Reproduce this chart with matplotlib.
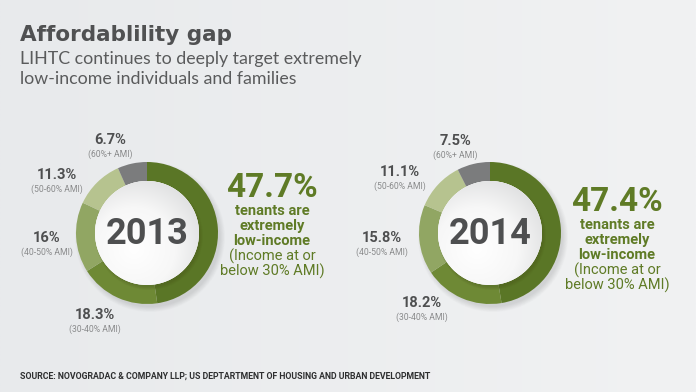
import numpy as np
import matplotlib
matplotlib.use("Agg")
import matplotlib.pyplot as plt
from matplotlib.patches import Circle

# data
years = ["2013", "2014"]
bands = ["(30% AMI)", "(30-40% AMI)", "(40-50% AMI)", "(50-60% AMI)", "(60%+ AMI)"]
share_2013 = [47.7, 18.3, 16.0, 11.3, 6.7]
share_2014 = [47.4, 18.2, 15.8, 11.1, 7.5]
pct_labels_2013 = ["47.7%", "18.3%", "16%", "11.3%", "6.7%"]
pct_labels_2014 = ["47.4%", "18.2%", "15.8%", "11.1%", "7.5%"]

colors = ["#5a7626", "#6e8935", "#91a663", "#b6c38f", "#7b7c7d"]
green = "#5f7b26"
dark = "#4e4f50"

W, H = 696, 392
fig = plt.figure(figsize=(W / 100, H / 100), dpi=100)
ax = fig.add_axes([0, 0, 1, 1])
ax.set_xlim(0, W)
ax.set_ylim(0, H)
ax.axis("off")

def Y(y):
    return H - y

# background
bg = np.linspace(0, 1, 256)
grad = np.outer(np.ones(64), bg)
ax.imshow(grad, extent=[0, W, 0, H], cmap=matplotlib.colors.LinearSegmentedColormap.from_list(
    "bg", ["#e8eaec", "#f1f2f3"]), aspect="auto", zorder=0)

# donuts
centers = [(147, 233), (490, 233)]
r_out, r_in = 71, 52

# label positions (x, y) for the small labels, index 1..4
label_pos = {
    "2013": [None, (95, 315), (47, 238), (57, 175), (110, 140)],
    "2014": [None, (422, 303), (382, 238), (400, 172), (455, 141)],
}
side_text_y = {"2013": 189, "2014": 203}
side_text_x = {"2013": 272, "2014": 617}

for year, shares, labels, (cx, cy) in zip(years, [share_2013, share_2014],
                                         [pct_labels_2013, pct_labels_2014], centers):
    # soft shadow
    for k in range(10):
        ax.add_patch(Circle((cx + 3, Y(cy) - 4), r_out + 4 - k * 0.6,
                            color="#9a9c9e", alpha=0.035, lw=0, zorder=1))
    ax.pie(shares, colors=colors, startangle=90, counterclock=False,
           radius=r_out, center=(cx, Y(cy)), frame=True,
           wedgeprops=dict(width=r_out - r_in, linewidth=0))

    # inner circle shadow and gradient fill
    for k in range(8):
        ax.add_patch(Circle((cx + 2, Y(cy) - 3), r_in + 2 - k * 0.5,
                            color="#4a5a20", alpha=0.05, lw=0, zorder=3))
    disc = Circle((cx, Y(cy)), r_in, facecolor="white", lw=0, zorder=4)
    ax.add_patch(disc)
    yy, xx = np.mgrid[-1:1:200j, -1:1:200j]
    rr = np.sqrt((xx + 0.25) ** 2 + (yy - 0.3) ** 2)
    shade = np.clip(rr / 1.6, 0, 1)
    img = ax.imshow(shade, extent=[cx - r_in, cx + r_in, Y(cy) - r_in, Y(cy) + r_in],
                    cmap=matplotlib.colors.LinearSegmentedColormap.from_list(
                        "disc", ["#ffffff", "#f7f7f7", "#d9dadb"]),
                    vmin=0, vmax=1, origin="upper", zorder=5)
    img.set_clip_path(disc)

    ax.text(cx, Y(cy + 1), year, ha="center", va="center", fontsize=26,
            fontweight="bold", color=dark, family="Roboto", zorder=6)

    for i in range(1, 5):
        lx, ly = label_pos[year][i]
        ax.text(lx, Y(ly), labels[i], ha="center", va="center", fontsize=10.5,
                fontweight="bold", color=dark, family="Roboto")
        ax.text(lx, Y(ly + 14), bands[i], ha="center", va="center", fontsize=6.2,
                color="#8a8b8c", family="Roboto")

    tx, ty = side_text_x[year], side_text_y[year]
    ax.text(tx, Y(ty - 1), labels[0], ha="center", va="center", fontsize=24,
            fontweight="bold", color=green, family="Roboto")
    for j, (line, bold) in enumerate([("tenants are", True), ("extremely", True),
                                      ("low-income", True), ("(Income at or", False),
                                      ("below 30% AMI)", False)]):
        ax.text(tx, Y(ty + 22 + j * 15), line, ha="center", va="center",
                fontsize=10.5, fontweight="bold" if bold else "normal",
                color=green, family="Roboto")

# titles
ax.text(20, Y(35), "Affordablility gap", ha="left", va="center", fontsize=15.5,
        fontweight="bold", color="#505152", family="DejaVu Sans")
ax.text(20, Y(59), "LIHTC continues to deeply target extremely", ha="left",
        va="center", fontsize=12.8, color="#5a5b5c", family="Lato")
ax.text(20, Y(79), "low-income individuals and families", ha="left",
        va="center", fontsize=12.8, color="#5a5b5c", family="Lato")

ax.text(20, Y(376), "SOURCE: NOVOGRADAC & COMPANY LLP; US DEPTARTMENT OF HOUSING AND URBAN DEVELOPMENT",
        ha="left", va="center", fontsize=6.35, fontweight="bold", color="#2e2f30",
        family="Roboto")

ax.set_xlim(0, W)
ax.set_ylim(0, H)
fig.savefig("out.png", dpi=100)
